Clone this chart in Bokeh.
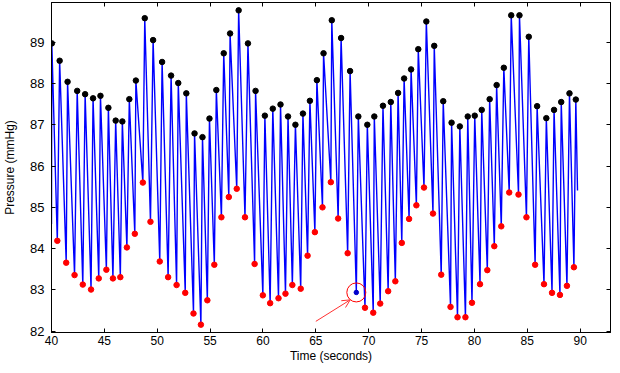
from bokeh.plotting import figure
from bokeh.models import Range1d, LinearAxis, FixedTicker, Arrow, OpenHead
from bokeh.embed import file_html
from bokeh.resources import INLINE

# ---- data ----
start_t, start_p = 40.0, 84.6
end_t, end_p = 89.75, 85.41

peak_t = [40.03, 40.77, 41.52, 42.43, 43.18, 43.93, 44.63, 45.38, 46.07, 46.70,
          47.36, 47.98, 48.82, 49.61, 50.46, 51.31, 51.99, 52.75, 53.53, 54.28,
          54.94, 55.59, 56.29, 56.89, 57.70, 58.58, 59.30, 60.18, 60.93, 61.66,
          62.37, 63.07, 63.78, 64.44, 65.10, 65.73, 66.51, 67.39, 68.24, 69.02,
          69.87, 70.53, 71.35, 72.09, 72.78, 73.35, 74.01, 74.69, 75.45, 76.20,
          77.05, 77.84, 78.62, 79.37, 80.03, 80.69, 81.44, 82.10, 82.78, 83.48,
          84.26, 85.14, 85.93, 86.80, 87.53, 88.21, 88.99, 89.59]
peak_p = [88.97, 88.55, 88.04, 87.82, 87.74, 87.64, 87.70, 87.41, 87.10, 87.08,
          87.62, 88.07, 89.58, 89.05, 88.52, 88.19, 88.01, 87.76, 86.79, 86.70,
          87.15, 87.84, 88.73, 89.21, 89.77, 88.97, 87.82, 87.22, 87.39, 87.49,
          87.20, 87.00, 87.27, 87.58, 88.08, 88.73, 89.53, 89.10, 88.30, 87.20,
          87.00, 87.20, 87.46, 87.55, 87.77, 88.12, 88.34, 88.83, 89.50, 88.91,
          87.57, 87.05, 86.96, 87.20, 87.22, 87.36, 87.62, 87.96, 88.38, 89.65,
          89.65, 89.13, 87.45, 87.16, 87.36, 87.55, 87.76, 87.61]

trough_t = [40.55, 41.39, 42.18, 42.96, 43.74, 44.47, 45.19, 45.81, 46.51, 47.13,
            47.88, 48.64, 49.36, 50.24, 51.03, 51.83, 52.65, 53.43, 54.13, 54.74,
            55.40, 56.07, 56.77, 57.52, 58.30, 59.21, 59.99, 60.68, 61.47, 62.13,
            62.78, 63.57, 64.22, 64.91, 65.63, 66.42, 67.11, 68.01, 68.83, 69.65,
            70.43, 71.09, 71.84, 72.52, 73.13, 73.82, 74.51, 75.23, 76.08, 76.86,
            77.74, 78.40, 79.15, 79.77, 80.53, 81.22, 81.88, 82.54, 83.29, 84.17,
            84.92, 85.74, 86.58, 87.34, 88.09, 88.75, 89.41]
trough_p = [84.19, 83.66, 83.36, 83.13, 83.01, 83.28, 83.49, 83.28, 83.31, 84.03,
            84.36, 85.60, 84.65, 83.69, 83.31, 83.12, 82.93, 82.43, 82.16, 82.75,
            83.61, 84.76, 85.25, 85.45, 84.76, 83.63, 82.87, 82.68, 82.80, 82.91,
            83.12, 83.03, 83.83, 84.40, 85.00, 85.61, 84.73, 83.89, 82.94, 82.57,
            82.45, 82.67, 82.97, 83.21, 84.14, 84.72, 85.05, 85.48, 84.85, 83.37,
            82.59, 82.34, 82.34, 82.69, 83.14, 83.48, 84.06, 84.54, 85.36, 85.31,
            84.76, 83.61, 83.14, 82.93, 82.88, 83.10, 83.55]

missed_index = 38          # trough that was not detected (circled)
arrow_from = (65.0, 82.24)
arrow_to = (68.25, 82.76)

x_ticks = [40, 45, 50, 55, 60, 65, 70, 75, 80, 85, 90]
y_ticks = [82, 83, 84, 85, 86, 87, 88, 89]
x_label = "Time (seconds)"
y_label = "Pressure (mmHg)"

# ---- build the waveform from the extrema ----
line_t = [start_t]
line_p = [start_p]
for i in range(len(peak_t)):
    line_t.append(peak_t[i]); line_p.append(peak_p[i])
    if i < len(trough_t):
        line_t.append(trough_t[i]); line_p.append(trough_p[i])
line_t.append(end_t); line_p.append(end_p)

red_t = [t for i, t in enumerate(trough_t) if i != missed_index]
red_p = [v for i, v in enumerate(trough_p) if i != missed_index]

FONT = "Liberation Sans"

p = figure(width=612, height=365, output_backend="svg", toolbar_location=None,
           x_range=Range1d(40, 92.87), y_range=Range1d(81.97, 89.96),
           min_border_left=48, min_border_right=2, min_border_top=2,
           min_border_bottom=10, background_fill_color="white",
           border_fill_color="white")
p.grid.visible = False
p.outline_line_color = "black"
p.outline_line_width = 1

for ax in (p.xaxis[0], p.yaxis[0]):
    ax.major_tick_in = 4
    ax.major_tick_out = 0
    ax.minor_tick_line_color = None
    ax.axis_line_color = "black"
    ax.major_tick_line_color = "black"
    ax.major_label_text_font = FONT
    ax.major_label_text_color = "black"
    ax.axis_label_text_font = FONT
    ax.axis_label_text_font_style = "normal"
    ax.axis_label_text_color = "black"

p.xaxis[0].ticker = FixedTicker(ticks=x_ticks)
p.yaxis[0].ticker = FixedTicker(ticks=y_ticks)
p.xaxis[0].axis_label = x_label
p.yaxis[0].axis_label = y_label
p.xaxis[0].major_label_text_font_size = "12px"
p.yaxis[0].major_label_text_font_size = "13px"
p.xaxis[0].axis_label_text_font_size = "12px"
p.yaxis[0].axis_label_text_font_size = "12px"
p.xaxis[0].major_label_standoff = 3
p.yaxis[0].major_label_standoff = 7
p.xaxis[0].axis_label_standoff = 1
p.yaxis[0].axis_label_standoff = 10

top = LinearAxis(ticker=FixedTicker(ticks=x_ticks), major_label_text_color=None,
                 major_tick_in=4, major_tick_out=0, minor_tick_line_color=None,
                 major_label_standoff=0, axis_line_color="black")
right = LinearAxis(ticker=FixedTicker(ticks=y_ticks), major_label_text_color=None,
                   major_tick_in=4, major_tick_out=0, minor_tick_line_color=None,
                   major_label_standoff=0, axis_line_color="black")
p.add_layout(top, "above")
p.add_layout(right, "right")

p.line(line_t, line_p, line_color="#0000FF", line_width=1.4)
p.scatter(peak_t, peak_p, size=5.5, color="black")
p.scatter(red_t, red_p, size=5.5, color="#FF0000")
p.scatter([trough_t[missed_index]], [trough_p[missed_index]], size=4.5, color="#0000CC")
p.scatter([trough_t[missed_index]], [trough_p[missed_index]], size=19,
          fill_color=None, line_color="#FF0000", line_width=1)
p.add_layout(Arrow(end=OpenHead(size=8, line_color="#FF3030", line_width=1),
                   x_start=arrow_from[0], y_start=arrow_from[1],
                   x_end=arrow_to[0], y_end=arrow_to[1],
                   line_color="#FF3030", line_width=1))

open("out.html", "w").write(file_html(p, INLINE))
